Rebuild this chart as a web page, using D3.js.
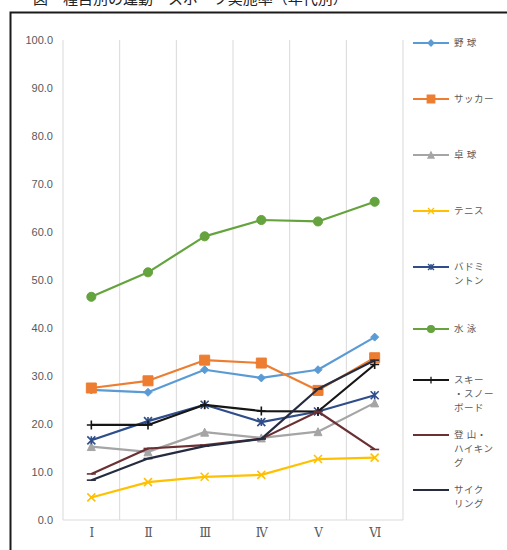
<!DOCTYPE html>
<html>
<head>
<meta charset="utf-8">
<script src="https://cdn.jsdelivr.net/npm/d3@7/dist/d3.min.js"></script>
<style>
  body { margin: 0; background: #fff; }
  text { font-family: "Noto Sans CJK JP", "Noto Sans", sans-serif; }
</style>
</head>
<body>
<div id="chart"></div>
<script>
// categories (x axis)
var periods = ["Ⅰ", "Ⅱ", "Ⅲ", "Ⅳ", "Ⅴ", "Ⅵ"];
var yTicks = [0, 10, 20, 30, 40, 50, 60, 70, 80, 90, 100];

var seriesNames = ["野 球", "サッカー", "卓 球", "テニス", "バドミントン", "水 泳", "スキー・スノーボード", "登 山・ハイキング", "サイクリング"];
// legend text is wrapped like the original
var legendLines = [["野 球"], ["サッカー"], ["卓 球"], ["テニス"], ["バドミ", "ントン"], ["水 泳"], ["スキー", "・スノー", "ボード"], ["登 山・", "ハイキン", "グ"], ["サイク", "リング"]];

var yakyu     = [27.1, 26.6, 31.3, 29.6, 31.3, 38.1];
var soccer    = [27.5, 29.0, 33.3, 32.7, 27.0, 33.8];
var takkyu    = [15.3, 14.2, 18.3, 17.1, 18.4, 24.4];
var tennis    = [4.7, 7.9, 9.0, 9.4, 12.7, 13.0];
var badminton = [16.6, 20.6, 24.0, 20.4, 22.6, 26.0];
var suiei     = [46.5, 51.6, 59.1, 62.5, 62.2, 66.3];
var ski       = [19.8, 19.8, 24.0, 22.7, 22.6, 32.4];
var tozan     = [9.6, 14.9, 15.6, 16.9, 22.6, 14.7];
var cycling   = [8.3, 12.8, 15.4, 16.9, 27.3, 33.3];

var allValues = [yakyu, soccer, takkyu, tennis, badminton, suiei, ski, tozan, cycling];
var colors = ["#5B9BD5", "#ED7D31", "#A5A5A5", "#FFC000", "#2F4D8A", "#65A33E", "#161616", "#6B3034", "#262C3F"];
var markers = ["diamond", "square", "triangle", "x", "star", "circle", "plus", "dash", "dash"];

var W = 507, H = 550;
var plot = { left: 63, right: 403, top: 40, bottom: 520 };

var svg = d3.select("#chart").append("svg")
  .attr("width", W)
  .attr("height", H);

// title (cut off at the top in the original)
svg.append("text")
  .attr("x", 33)
  .attr("y", 4)
  .style("font-size", "15px")
  .style("fill", "#222")
  .text("図　種目別の運動・スポーツ実施率（年代別）");

// outer frame
svg.append("rect")
  .attr("x", 10.5)
  .attr("y", 12.5)
  .attr("width", 520)
  .attr("height", 560)
  .attr("fill", "none")
  .attr("stroke", "#1a1a1a")
  .attr("stroke-width", 2);

var x = d3.scalePoint()
  .domain(periods)
  .range([plot.left, plot.right])
  .padding(0.5);
var step = x.step();

var y = d3.scaleLinear()
  .domain([0, 100])
  .range([plot.bottom, plot.top]);

// vertical gridlines between categories
var bounds = periods.map(function (p) { return x(p) - step / 2; });
bounds.push(x(periods[periods.length - 1]) + step / 2);
svg.append("g").selectAll("line")
  .data(bounds)
  .enter().append("line")
  .attr("x1", function (d) { return d; })
  .attr("x2", function (d) { return d; })
  .attr("y1", plot.top)
  .attr("y2", plot.bottom)
  .attr("stroke", "#d9d9d9")
  .attr("stroke-width", 1);

// x axis line
svg.append("line")
  .attr("x1", plot.left)
  .attr("x2", plot.right)
  .attr("y1", plot.bottom)
  .attr("y2", plot.bottom)
  .attr("stroke", "#d9d9d9");

// y axis labels
var yAxis = d3.axisLeft(y)
  .tickValues(yTicks)
  .tickFormat(d3.format(".1f"))
  .tickSize(0)
  .tickPadding(10);
var gy = svg.append("g")
  .attr("transform", "translate(" + plot.left + ",0)")
  .call(yAxis);
gy.select(".domain").remove();
gy.selectAll("text")
  .style("font-family", "'Liberation Sans', Arial, sans-serif")
  .style("font-size", "11px")
  .style("fill", "#595959");

// x axis labels
var xAxis = d3.axisBottom(x).tickSize(0).tickPadding(8);
var gx = svg.append("g")
  .attr("transform", "translate(0," + plot.bottom + ")")
  .call(xAxis);
gx.select(".domain").remove();
gx.selectAll("text")
  .style("font-family", "'DejaVu Serif', 'Noto Sans CJK JP', serif")
  .style("font-size", "12px")
  .style("fill", "#595959");

function markerPath(type, s) {
  var h = s / 2;
  switch (type) {
    case "diamond": return "M0," + (-h) + "L" + h + ",0L0," + h + "L" + (-h) + ",0Z";
    case "square": return "M" + (-h) + "," + (-h) + "h" + s + "v" + s + "h" + (-s) + "Z";
    case "triangle": return "M0," + (-h) + "L" + h + "," + h + "L" + (-h) + "," + h + "Z";
    case "circle": return d3.symbol(d3.symbolCircle, s * s * 0.8)();
    case "x": return "M" + (-h) + "," + (-h) + "L" + h + "," + h + "M" + h + "," + (-h) + "L" + (-h) + "," + h;
    case "star": return "M" + (-h) + "," + (-h) + "L" + h + "," + h + "M" + h + "," + (-h) + "L" + (-h) + "," + h + "M0," + (-h) + "V" + h;
    case "plus": return "M" + (-h) + ",0H" + h + "M0," + (-h) + "V" + h;
    case "dash": return "M" + (-h) + ",0H" + h;
  }
}
var filled = { diamond: true, square: true, triangle: true, circle: true };
var markerSize = { diamond: 8, square: 10, triangle: 8, circle: 9, x: 8, star: 8, plus: 9, dash: 9 };

var line = d3.line()
  .x(function (d, i) { return x(periods[i]); })
  .y(function (d) { return y(d); });

allValues.forEach(function (vals, k) {
  var g = svg.append("g").attr("class", "series");
  g.append("path")
    .datum(vals)
    .attr("d", line)
    .attr("fill", "none")
    .attr("stroke", colors[k])
    .attr("stroke-width", 2.2)
    .attr("stroke-linejoin", "round");
  g.selectAll(".pt")
    .data(vals)
    .enter().append("path")
    .attr("class", "pt")
    .attr("transform", function (d, i) { return "translate(" + x(periods[i]) + "," + y(d) + ")"; })
    .attr("d", markerPath(markers[k], markerSize[markers[k]]))
    .attr("fill", filled[markers[k]] ? colors[k] : "none")
    .attr("stroke", colors[k])
    .attr("stroke-width", filled[markers[k]] ? 1 : 1.6);
});

// legend
var legendTop = [43, 99, 155, 211, 267, 329, 380, 435, 490];
var legend = svg.append("g").attr("class", "legend");
legendLines.forEach(function (lines, k) {
  var ly = legendTop[k];
  var g = legend.append("g").attr("transform", "translate(413," + ly + ")");
  g.append("line")
    .attr("x1", 0).attr("x2", 36)
    .attr("y1", 0).attr("y2", 0)
    .attr("stroke", colors[k])
    .attr("stroke-width", 2);
  g.append("path")
    .attr("transform", "translate(18,0)")
    .attr("d", markerPath(markers[k], markerSize[markers[k]] * 0.75))
    .attr("fill", filled[markers[k]] ? colors[k] : "none")
    .attr("stroke", colors[k])
    .attr("stroke-width", 1.3);
  lines.forEach(function (t, j) {
    g.append("text")
      .attr("x", 41)
      .attr("y", j * 14)
      .attr("dy", "0.35em")
      .style("font-size", "9.5px")
      .style("letter-spacing", "0.5px")
      .style("fill", "#595959")
      .text(t);
  });
});
</script>
</body>
</html>
